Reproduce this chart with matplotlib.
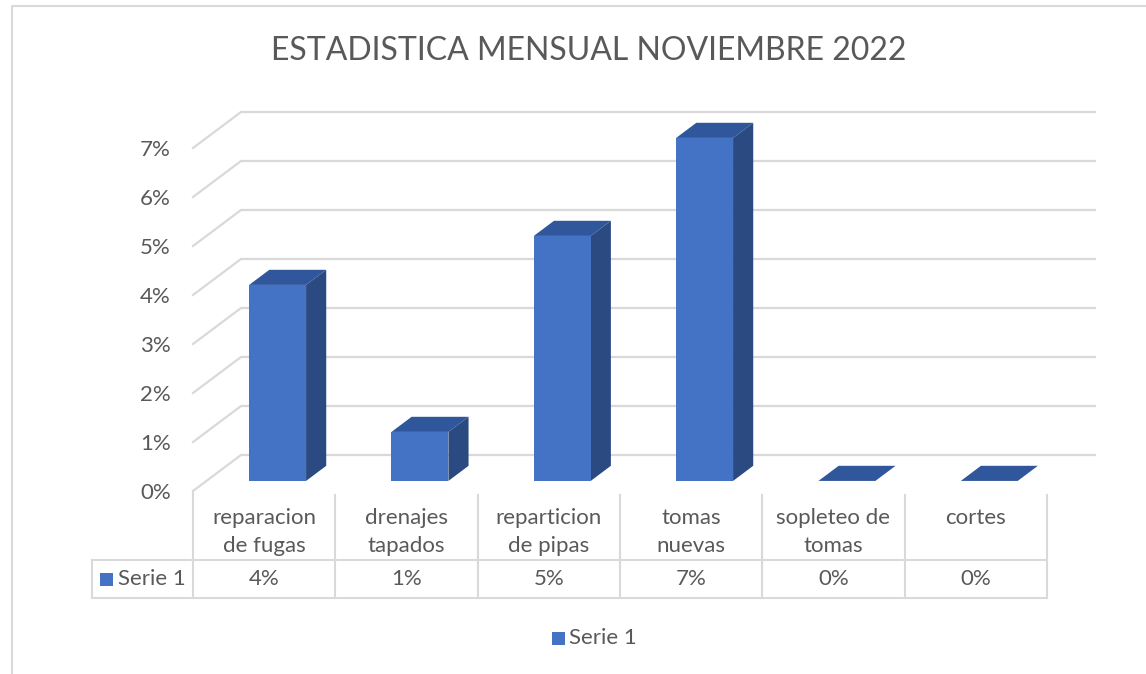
import matplotlib.pyplot as plt
from matplotlib.patches import Polygon, Rectangle

plt.rcParams['font.family'] = ['Lato', 'DejaVu Sans']

# data
categorias = ['reparacion\nde fugas', 'drenajes\ntapados', 'reparticion\nde pipas',
              'tomas\nnuevas', 'sopleteo de\ntomas', 'cortes']
serie1 = [4, 1, 5, 7, 0, 0]
ticks = [0, 1, 2, 3, 4, 5, 6, 7]
titulo = 'ESTADISTICA MENSUAL NOVIEMBRE 2022'
serie_nombre = 'Serie 1'

FRONT = '#4472C4'
SIDE = '#2B4A82'
TOP = '#30579C'
GRID = '#D9D9D9'
TXT = '#595959'
FS = 16

W, H = 1146, 674
X0, CW = 193, 142.33   # pixel of category 0, pixels per category
Y0, VH = 491, 49.0     # pixel of 0%, pixels per 1%
DX, DY = 48 / CW, 36 / VH  # depth vector (full depth)

fig = plt.figure(figsize=(W / 100, H / 100), dpi=100)
ax = fig.add_axes([0, 0, 1, 1])
ax.set_xlim(-X0 / CW, (W - X0) / CW)
ax.set_ylim((Y0 - H) / VH, Y0 / VH)
ax.axis('off')


def px(x, y):
    return (x - X0) / CW, (Y0 - y) / VH


n = len(categorias)

# chart border
bx, by = px(12, 6)
ax.plot([bx, bx, px(W + 5, 0)[0]], [px(0, H + 5)[1], by, by], color=GRID, lw=1.5)

# walls / gridlines
for v in ticks:
    ax.plot([0, DX, n + DX], [v, v + DY, v + DY], color=GRID, lw=1.6, solid_joinstyle='miter')
    tx, _ = px(171, 0)
    ax.text(tx, v - 0.04, f'{v}%', ha='right', va='center', fontsize=FS, color=TXT)

# bars
t0, t1 = 0.28, 0.70
bw = 0.4
for i, v in enumerate(serie1):
    xl = i + 0.5 - bw / 2 + t0 * DX
    xr = xl + bw
    yb = t0 * DY
    yt = v + yb
    ddx, ddy = (t1 - t0) * DX, (t1 - t0) * DY
    top = [(xl, yt), (xr, yt), (xr + ddx, yt + ddy), (xl + ddx, yt + ddy)]
    ax.add_patch(Polygon(top, closed=True, facecolor=TOP, edgecolor='none', zorder=3))
    if v > 0:
        side = [(xr, yb), (xr + ddx, yb + ddy), (xr + ddx, yt + ddy), (xr, yt)]
        ax.add_patch(Polygon(side, closed=True, facecolor=SIDE, edgecolor='none', zorder=3))
        ax.add_patch(Rectangle((xl, yb), bw, v, facecolor=FRONT, edgecolor='none', zorder=4))

# data table
_, y_top = px(0, 495)
_, y_mid = px(0, 560)
_, y_bot = px(0, 598)
x_left, _ = px(92, 0)
for i in range(n + 1):
    ax.plot([i, i], [y_top if i > 0 else 0, y_bot], color=GRID, lw=1.5)
ax.plot([x_left, x_left], [y_mid, y_bot], color=GRID, lw=1.5)
ax.plot([x_left, n], [y_mid, y_mid], color=GRID, lw=1.5)
ax.plot([x_left, n], [y_bot, y_bot], color=GRID, lw=1.5)

_, y_val = px(0, 579)
for i, (c, v) in enumerate(zip(categorias, serie1)):
    for k, linea in enumerate(c.split('\n')):
        ax.text(i + 0.5, px(0, 518 + 28 * k)[1], linea, ha='center', va='center',
                fontsize=FS, color=TXT)
    ax.text(i + 0.5, y_val, f'{v}%', ha='center', va='center', fontsize=FS, color=TXT)

kx, ky = px(100, 586)
ax.add_patch(Rectangle((kx, ky), 13 / CW, 13 / VH, facecolor=FRONT, edgecolor='none'))
ax.text(px(118, 0)[0], y_val, serie_nombre, ha='left', va='center', fontsize=FS, color=TXT)

# legend
lx, ly = px(552, 645)
ax.add_patch(Rectangle((lx, ly), 13 / CW, 13 / VH, facecolor=FRONT, edgecolor='none'))
ax.text(px(569, 0)[0], px(0, 638)[1], serie_nombre, ha='left', va='center',
        fontsize=FS, color=TXT)

# title
ax.text(px(589, 0)[0], px(0, 51)[1], titulo, ha='center', va='center',
        fontsize=23, color=TXT)

fig.savefig('out.png', dpi=100)
